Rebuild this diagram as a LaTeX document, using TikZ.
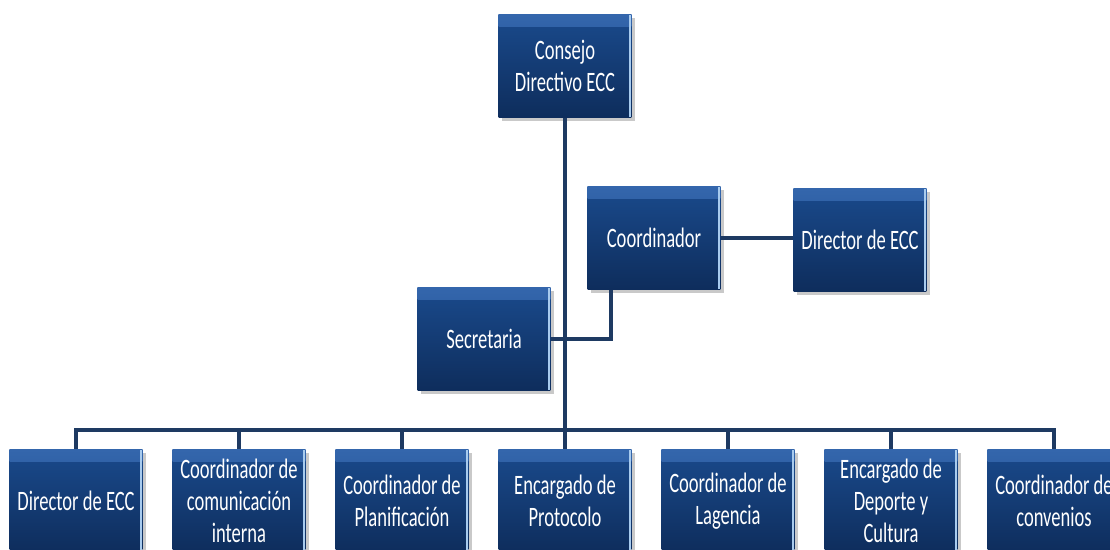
\documentclass[tikz,border=0pt]{standalone}
\usepackage{fontspec}
\setmainfont{Carlito}[FakeStretch=0.66]
\usetikzlibrary{shadows,positioning}

\definecolor{boxtop}{HTML}{1A4A8C}
\definecolor{boxbot}{HTML}{0E2D5C}
\definecolor{boxhi}{HTML}{3466AC}
\definecolor{boxedge}{HTML}{A8CBEE}
\definecolor{linkcol}{HTML}{1E3A62}

\tikzset{
  orgbox/.style={rectangle, minimum width=2.66cm, minimum height=2.06cm,
    inner sep=0pt, top color=boxtop, bottom color=boxbot, text=white,
    align=center, font=\fontsize{16}{18.2}\selectfont,
    drop shadow={shadow xshift=2pt, shadow yshift=-2pt, opacity=0.35, fill=black!60},
    path picture={
      \shade[top color=boxhi, bottom color=boxtop]
        (path picture bounding box.north west) rectangle ([yshift=-7pt]path picture bounding box.north east);
      \fill[boxedge] ([xshift=-1.6pt]path picture bounding box.north east) rectangle (path picture bounding box.south east);
    }},
  link/.style={draw=linkcol, line width=1.8pt}
}

\begin{document}
\begin{tikzpicture}[x=0.02cm, y=-0.02cm]
  % The frame of the picture
  \fill [white] (0,0) rectangle (1110,549);
  \useasboundingbox (0,0) rectangle (1110,549);

  % The board
  \node [orgbox] (consejo) at (565,66) {Consejo\\Directivo ECC};
  % The coordinator and the director beside him
  \node [orgbox] (coord) at (654,238) {Coordinador};
  \node [orgbox] (dirtop) at (860,240) {Director de ECC};
  % The secretary
  \node [orgbox] (secre) at (484,339) {Secretaria};

  % The lower row
  \node [orgbox] (b1) at (76,501) {Director de ECC};
  \node [orgbox] (b2) at (239,501) {Coordinador de\\comunicación\\interna};
  \node [orgbox] (b3) at (402,501) {Coordinador de\\Planificación};
  \node [orgbox] (b4) at (565,501) {Encargado de\\Protocolo};
  \node [orgbox] (b5) at (728,501) {Coordinador de\\Lagencia};
  \node [orgbox] (b6) at (891,501) {Encargado de\\Deporte y\\Cultura};
  \node [orgbox] (b7) at (1054,501) {Coordinador de\\convenios};

  % The point where the trunk meets the bus
  \coordinate (bus) at (565,430);

  % The trunk
  \draw [link] (consejo.south) -- (bus);
  % Coordinator to director
  \draw [link] (coord.east) -- (coord.east -| dirtop.west);
  % Secretary to coordinator
  \draw [link] (secre.east) -| ([xshift=-0.86cm]coord.south);
  % The bus
  \draw [link, line cap=rect] (bus -| b1) -- (bus -| b7);
  % Drops to the lower row
  \foreach \b in {b1,b2,b3,b4,b5,b6,b7}
    \draw [link] (bus -| \b) -- (\b.north);
\end{tikzpicture}
\end{document}
